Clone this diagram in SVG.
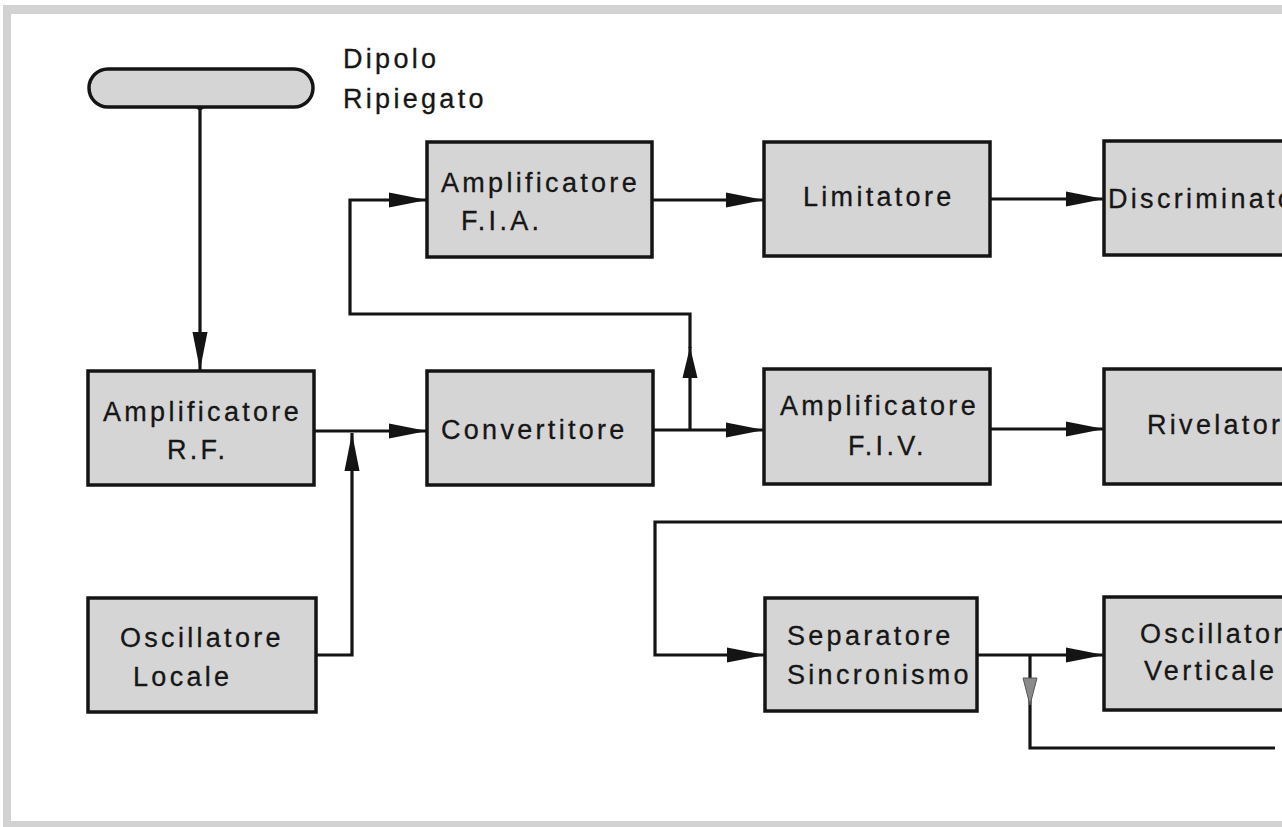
<svg xmlns="http://www.w3.org/2000/svg" width="1282" height="827" viewBox="0 0 1282 827">
<style>
.box{fill:#d5d5d5;stroke:#141414;stroke-width:3.5}
.t{font-family:"Liberation Sans",Arial,sans-serif;font-size:27px;letter-spacing:3.3px;fill:#161616;stroke:#161616;stroke-width:0.3}
.ln{fill:none;stroke:#141414;stroke-width:3.2}
.frame{fill:#d2d2d2}
</style>
<defs>
<marker id="arr" markerUnits="userSpaceOnUse" markerWidth="38" markerHeight="16" refX="38" refY="8" orient="auto">
<path d="M0,0.5 L38,8 L0,15.5 Z" fill="#141414"/>
</marker>
<marker id="arrS" markerUnits="userSpaceOnUse" markerWidth="31" markerHeight="16" refX="31" refY="8" orient="auto">
<path d="M0,0.5 L31,8 L0,15.5 Z" fill="#141414"/>
</marker>
</defs>
<rect width="1282" height="827" fill="#ffffff"/>
<g id="frame">
<rect class="frame" x="3" y="5" width="1279" height="9"/>
<rect class="frame" x="3" y="5" width="8" height="822"/>
<rect class="frame" x="3" y="821" width="1279" height="6"/>
</g>
<g id="connectors">
<circle cx="200" cy="106" r="4" fill="#141414"/>
<path class="ln" d="M200,106 V370" marker-end="url(#arr)"/>
<path class="ln" d="M314,431 H427" marker-end="url(#arr)"/>
<path class="ln" d="M316,655 H352 V433" marker-end="url(#arr)"/>
<path class="ln" d="M653,430 H764" marker-end="url(#arr)"/>
<path class="ln" d="M690,430 V347" marker-end="url(#arrS)"/>
<path class="ln" d="M690,348 V314 H350 V200 H427" marker-end="url(#arr)"/>
<path class="ln" d="M652,200 H764" marker-end="url(#arr)"/>
<path class="ln" d="M990,199 H1104" marker-end="url(#arr)"/>
<path class="ln" d="M990,429 H1104" marker-end="url(#arr)"/>
<path class="ln" d="M1282,522 H655 V655 H765" marker-end="url(#arr)"/>
<path class="ln" d="M977,655 H1104" marker-end="url(#arr)"/>
<path class="ln" d="M1030,655 V748 H1275"/>
<path d="M1023,678 L1030,705 L1037,678 Z" fill="#8a8a8a" stroke="#555" stroke-width="1"/>
</g>
<g id="dipolo">
<rect x="89" y="69" width="224" height="38" rx="19" ry="19" class="box"/>
<text class="t" x="343" y="68">Dipolo</text>
<text class="t" x="343" y="108">Ripiegato</text>
</g>
<g id="amp-fia">
<rect class="box" x="427" y="142" width="225" height="115"/>
<text class="t" x="441" y="192">Amplificatore</text>
<text class="t" x="461" y="230">F.I.A.</text>
</g>
<g id="limitatore">
<rect class="box" x="764" y="142" width="226" height="114"/>
<text class="t" x="803" y="206">Limitatore</text>
</g>
<g id="discriminatore">
<rect class="box" x="1104" y="141" width="200" height="114"/>
<text class="t" x="1108" y="208">Discriminatore</text>
</g>
<g id="amp-rf">
<rect class="box" x="88" y="371" width="226" height="114"/>
<text class="t" x="103" y="421">Amplificatore</text>
<text class="t" x="167" y="459">R.F.</text>
</g>
<g id="convertitore">
<rect class="box" x="427" y="371" width="226" height="114"/>
<text class="t" x="441" y="439">Convertitore</text>
</g>
<g id="amp-fiv">
<rect class="box" x="764" y="369" width="226" height="115"/>
<text class="t" x="780" y="415">Amplificatore</text>
<text class="t" x="848" y="455">F.I.V.</text>
</g>
<g id="rivelatore">
<rect class="box" x="1104" y="369" width="200" height="115"/>
<text class="t" x="1147" y="434">Rivelatore</text>
</g>
<g id="osc-locale">
<rect class="box" x="88" y="598" width="228" height="114"/>
<text class="t" x="120" y="647">Oscillatore</text>
<text class="t" x="133" y="686">Locale</text>
</g>
<g id="separatore">
<rect class="box" x="765" y="598" width="212" height="113"/>
<text class="t" x="787" y="645">Separatore</text>
<text class="t" x="787" y="684">Sincronismo</text>
</g>
<g id="osc-verticale">
<rect class="box" x="1104" y="597" width="200" height="113"/>
<text class="t" x="1140" y="643">Oscillatore</text>
<text class="t" x="1144" y="680">Verticale</text>
</g>
</svg>
